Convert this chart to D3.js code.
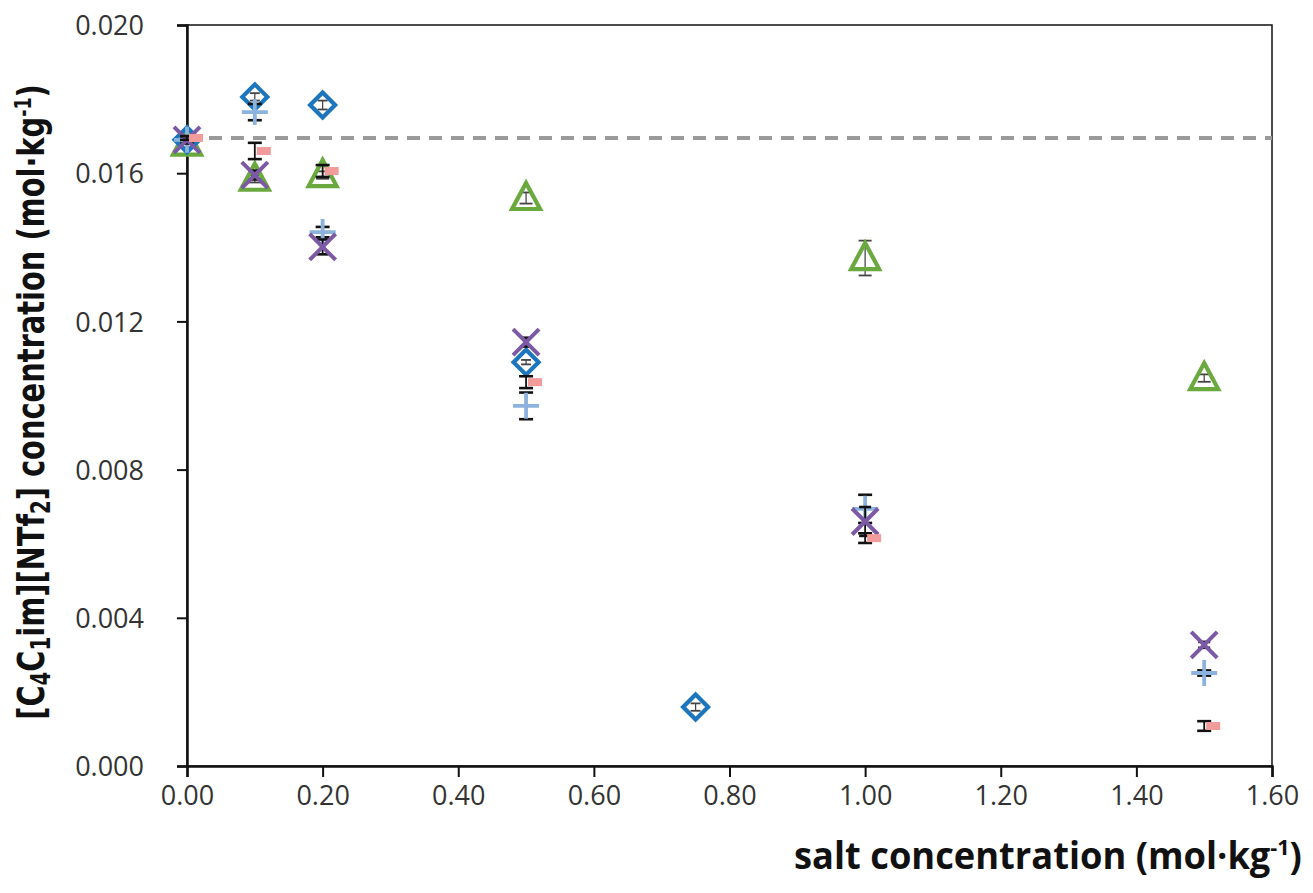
<!DOCTYPE html>
<html>
<head>
<meta charset="utf-8">
<script src="https://cdn.jsdelivr.net/npm/d3@7"></script>
<style>
  html, body { margin: 0; padding: 0; background: #fff; }
  svg { display: block; }
</style>
</head>
<body>
<svg id="chart" width="1313" height="893"></svg>
<script>
// data
const xTickValues = [0, 0.2, 0.4, 0.6, 0.8, 1.0, 1.2, 1.4, 1.6];
const yTickValues = [0, 0.004, 0.008, 0.012, 0.016, 0.020];
const refLevel = 0.01695; // dashed line

const diamondX   = [0, 0.1, 0.2, 0.5, 0.75];
const diamondY   = [0.0169, 0.01806, 0.01784, 0.0109, 0.00159];
const diamondErr = [0.0001, 0.0001, 0.00012, 0.00006, 0.0001];

const plusX   = [0, 0.1, 0.2, 0.5, 1.0, 1.5];
const plusY   = [0.0169, 0.01765, 0.01441, 0.00972, 0.00694, 0.00251];
const plusErr = [0.0001, 0.00022, 0.00014, 0.00036, 0.00038, 0.00007];

const crossX   = [0, 0.1, 0.2, 0.5, 1.0, 1.5];
const crossY   = [0.0169, 0.01595, 0.01401, 0.01144, 0.0066, 0.00327];
const crossErr = [0.0001, 0.00012, 0.0002, 0.00012, 0.00039, 0.00008];

const triX   = [0, 0.1, 0.2, 0.5, 1.0, 1.5];
const triY   = [0.0168, 0.01585, 0.01595, 0.01533, 0.01371, 0.01047];
const triErr = [0.0001, 0.0001, 0.0001, 0.00015, 0.00047, 0.0001];

const pinkX   = [0, 0.1, 0.2, 0.5, 1.0, 1.5];
const pinkY   = [0.01695, 0.0166, 0.01606, 0.01036, 0.00615, 0.00108];
const pinkErr = [0.00005, 0.00022, 0.00016, 0.00016, 0.00013, 0.00013];

const svg = d3.select("#chart");
const margin = {left: 187, right: 41, top: 25, bottom: 127};
const W = 1313, H = 893;

const x = d3.scaleLinear().domain([0, 1.6]).range([margin.left, W - margin.right]);
const y = d3.scaleLinear().domain([0, 0.020]).range([H - margin.bottom, margin.top]);

// frame
svg.append("rect")
    .attr("x", x(0)).attr("y", y(0.020))
    .attr("width", x(1.6) - x(0)).attr("height", y(0) - y(0.020))
    .attr("fill", "none").attr("stroke", "#111").attr("stroke-width", 1.5);

// dashed reference line
svg.append("line")
    .attr("x1", x(0)).attr("x2", x(1.6))
    .attr("y1", y(refLevel)).attr("y2", y(refLevel))
    .attr("stroke", "#9a9a9a").attr("stroke-width", 4)
    .attr("stroke-dasharray", "13,9");

// axes
const font = "'Open Sans', 'DejaVu Sans', sans-serif";
const gX = svg.append("g")
    .attr("transform", `translate(0,${y(0)})`)
    .call(d3.axisBottom(x).tickValues(xTickValues).tickFormat(d3.format(".2f")).tickSize(11).tickPadding(9));
const gY = svg.append("g")
    .attr("transform", `translate(${x(0)},0)`)
    .call(d3.axisLeft(y).tickValues(yTickValues).tickFormat(d3.format(".3f")).tickSize(10).tickPadding(33));

[gX, gY].forEach(g => {
    g.attr("font-size", null).attr("font-family", null);
    g.select(".domain").attr("stroke", "#111").attr("stroke-width", 2.5);
    g.selectAll(".tick line").attr("stroke", "#111").attr("stroke-width", 2);
    g.selectAll(".tick text")
        .attr("fill", "#333")
        .attr("font-family", font)
        .attr("font-size", 27);
});
gY.selectAll(".tick text").attr("dy", "0.36em");

// error bars + markers
function errorBars(xs, ys, es, color, width, cap) {
    const g = svg.append("g");
    xs.forEach((xv, i) => {
        const cx = x(xv), y1 = y(ys[i] + es[i]), y2 = y(ys[i] - es[i]);
        g.append("line").attr("x1", cx).attr("x2", cx).attr("y1", y1).attr("y2", y2)
            .attr("stroke", color).attr("stroke-width", width * 0.7);
        [y1, y2].forEach(yy => g.append("line")
            .attr("x1", cx - cap / 2).attr("x2", cx + cap / 2)
            .attr("y1", yy).attr("y2", yy)
            .attr("stroke", color).attr("stroke-width", width));
    });
}

function markers(xs, ys, pathFn, stroke, sw) {
    svg.append("g").selectAll("path")
        .data(xs.map((xv, i) => [xv, ys[i]]))
        .join("path")
        .attr("transform", d => `translate(${x(d[0])},${y(d[1])})`)
        .attr("d", pathFn)
        .attr("fill", "none")
        .attr("stroke", stroke)
        .attr("stroke-width", sw)
        .attr("stroke-linejoin", "miter");
}

const diamondPath = () => "M0,-12.5L12.5,0L0,12.5L-12.5,0Z";
const plusPath = () => "M-13,0H13M0,-13V13";
const crossPath = () => "M-13,-13L13,13M-13,13L13,-13";
const triPath = () => "M0,-15L14,11L-14,11Z";
const dashPath = () => "M2,-4H16V4H2Z";

errorBars(triX, triY, triErr, "#444", 1.8, 13);
markers(triX, triY, triPath, "#6aa93e", 4.2);

errorBars(diamondX, diamondY, diamondErr, "#444", 1.8, 10);
markers(diamondX, diamondY, diamondPath, "#1c76bd", 4.2);

errorBars(plusX, plusY, plusErr, "#111", 2.6, 14);
markers(plusX, plusY, plusPath, "#8cb2de", 3.8);

errorBars(crossX, crossY, crossErr, "#111", 2.6, 12);
markers(crossX, crossY, crossPath, "#7b59a5", 4);

errorBars(pinkX, pinkY, pinkErr, "#111", 2.6, 14);
svg.append("g").selectAll("path")
    .data(pinkX.map((xv, i) => [xv, pinkY[i]]))
    .join("path")
    .attr("transform", d => `translate(${x(d[0])},${y(d[1])})`)
    .attr("d", dashPath)
    .attr("fill", "#f29b9b");

// axis titles
const yTitle = svg.append("text")
    .attr("text-anchor", "middle")
    .style("font-family", "'Liberation Sans Narrow', 'DejaVu Sans Condensed', 'Open Sans', sans-serif")
    .style("font-weight", "bold")
    .style("font-size", "38px")
    .attr("fill", "#111");
yTitle.append("tspan").text("[C");
yTitle.append("tspan").text("4").attr("baseline-shift", "-25%").style("font-size", "26px");
yTitle.append("tspan").text("C");
yTitle.append("tspan").text("1").attr("baseline-shift", "-25%").style("font-size", "26px");
yTitle.append("tspan").text("im][NTf");
yTitle.append("tspan").text("2").attr("baseline-shift", "-25%").style("font-size", "26px");
yTitle.append("tspan").text("] concentration (mol·kg");
yTitle.append("tspan").text("-1").attr("baseline-shift", "super").style("font-size", "23px");
yTitle.append("tspan").text(")");
{
    const w = yTitle.node().getComputedTextLength();
    const s = 636 / w;
    yTitle.attr("transform", `translate(44,402) rotate(-90) scale(${s},1)`);
}

const xTitle = svg.append("text")
    .attr("text-anchor", "middle")
    .style("font-family", font)
    .style("font-weight", "bold")
    .style("font-size", "37px")
    .attr("fill", "#111");
xTitle.append("tspan").text("salt concentration (mol·kg");
xTitle.append("tspan").text("-1").attr("baseline-shift", "super").style("font-size", "22px");
xTitle.append("tspan").text(")");
{
    const w = xTitle.node().getComputedTextLength();
    const s = 508 / w;
    xTitle.attr("transform", `translate(1048,869) scale(${s},1)`);
}
</script>
</body>
</html>
